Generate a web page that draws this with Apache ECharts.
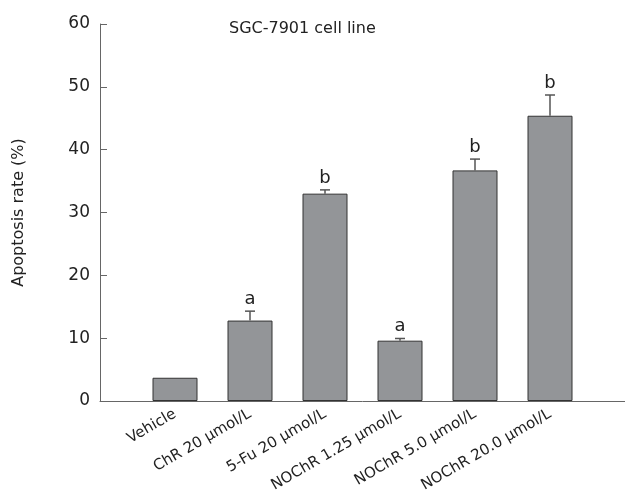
<!DOCTYPE html>
<html>
<head>
<meta charset="utf-8">
<script src="https://cdn.jsdelivr.net/npm/echarts@6/dist/echarts.min.js"></script>
<style>
  html, body { margin: 0; padding: 0; background: #fff; }
  #chart { width: 625px; height: 501px; }
</style>
</head>
<body>
<div id="chart"></div>
<script>
// data
const categories = ['Vehicle', 'ChR 20 μmol/L', '5-Fu 20 μmol/L', 'NOChR 1.25 μmol/L', 'NOChR 5.0 μmol/L', 'NOChR 20.0 μmol/L'];
const rates = [3.7, 12.8, 33.0, 9.6, 36.7, 45.4];
const errors = [0, 1.5, 0.6, 0.35, 1.8, 3.3];
const marks = ['', 'a', 'b', 'a', 'b', 'b'];
const yTicks = [0, 10, 20, 30, 40, 50, 60];

const font = 'DejaVu Sans';
const positions = categories.map((c, i) => i + 1);

const chart = echarts.init(document.getElementById('chart'));

chart.setOption({
  animation: false,
  title: {
    text: 'SGC-7901 cell line',
    left: 224,
    top: 16,
    textStyle: { fontFamily: font, fontSize: 16, fontWeight: 'normal', color: '#222' }
  },
  grid: { left: 100, right: 0, top: 24, bottom: 100 },
  xAxis: {
    type: 'value',
    min: 0,
    max: categories.length + 1,
    interval: 1,
    splitLine: { show: false },
    axisLine: { lineStyle: { color: '#666', width: 1 } },
    axisTick: { inside: true, length: 7, customValues: positions, lineStyle: { color: '#444' } },
    axisLabel: {
      customValues: positions,
      rotate: 30,
      margin: 12,
      fontFamily: font,
      fontSize: 15,
      color: '#222',
      formatter: v => categories[v - 1] || ''
    }
  },
  yAxis: {
    type: 'value',
    min: yTicks[0],
    max: yTicks[yTicks.length - 1],
    interval: 10,
    name: 'Apoptosis rate (%)',
    nameLocation: 'middle',
    nameGap: 73,
    nameRotate: 90,
    nameTextStyle: { fontFamily: font, fontSize: 16, color: '#222' },
    splitLine: { show: false },
    axisLine: { show: true, lineStyle: { color: '#666', width: 1 } },
    axisTick: { show: true, inside: true, length: 7, lineStyle: { color: '#666' } },
    axisLabel: { fontFamily: font, fontSize: 17, color: '#222', margin: 10 }
  },
  series: [
    {
      type: 'bar',
      barWidth: 45,
      data: rates.map((v, i) => [positions[i], v]),
      itemStyle: { color: '#939598', borderColor: '#333', borderWidth: 1 },
      z: 2
    },
    {
      type: 'custom',
      z: 3,
      data: rates.map((v, i) => [positions[i], v, errors[i], marks[i]]),
      renderItem: (params, api) => {
        const x = api.value(0);
        const v = api.value(1);
        const e = api.value(2);
        const base = api.coord([x, v]);
        const top = api.coord([x, v + e]);
        const children = [];
        if (e > 0) {
          children.push({
            type: 'line',
            shape: { x1: base[0], y1: base[1], x2: top[0], y2: top[1] },
            style: { stroke: '#555', lineWidth: 1.5 }
          });
          children.push({
            type: 'line',
            shape: { x1: top[0] - 5, y1: top[1], x2: top[0] + 5, y2: top[1] },
            style: { stroke: '#555', lineWidth: 1.5 }
          });
        }
        const mark = marks[params.dataIndex];
        if (mark) {
          children.push({
            type: 'text',
            x: top[0],
            y: top[1] - 3,
            style: {
              text: mark,
              textAlign: 'center',
              textVerticalAlign: 'bottom',
              font: '18px "DejaVu Sans"',
              fill: '#222'
            }
          });
        }
        return { type: 'group', children };
      }
    }
  ]
});
</script>
</body>
</html>
